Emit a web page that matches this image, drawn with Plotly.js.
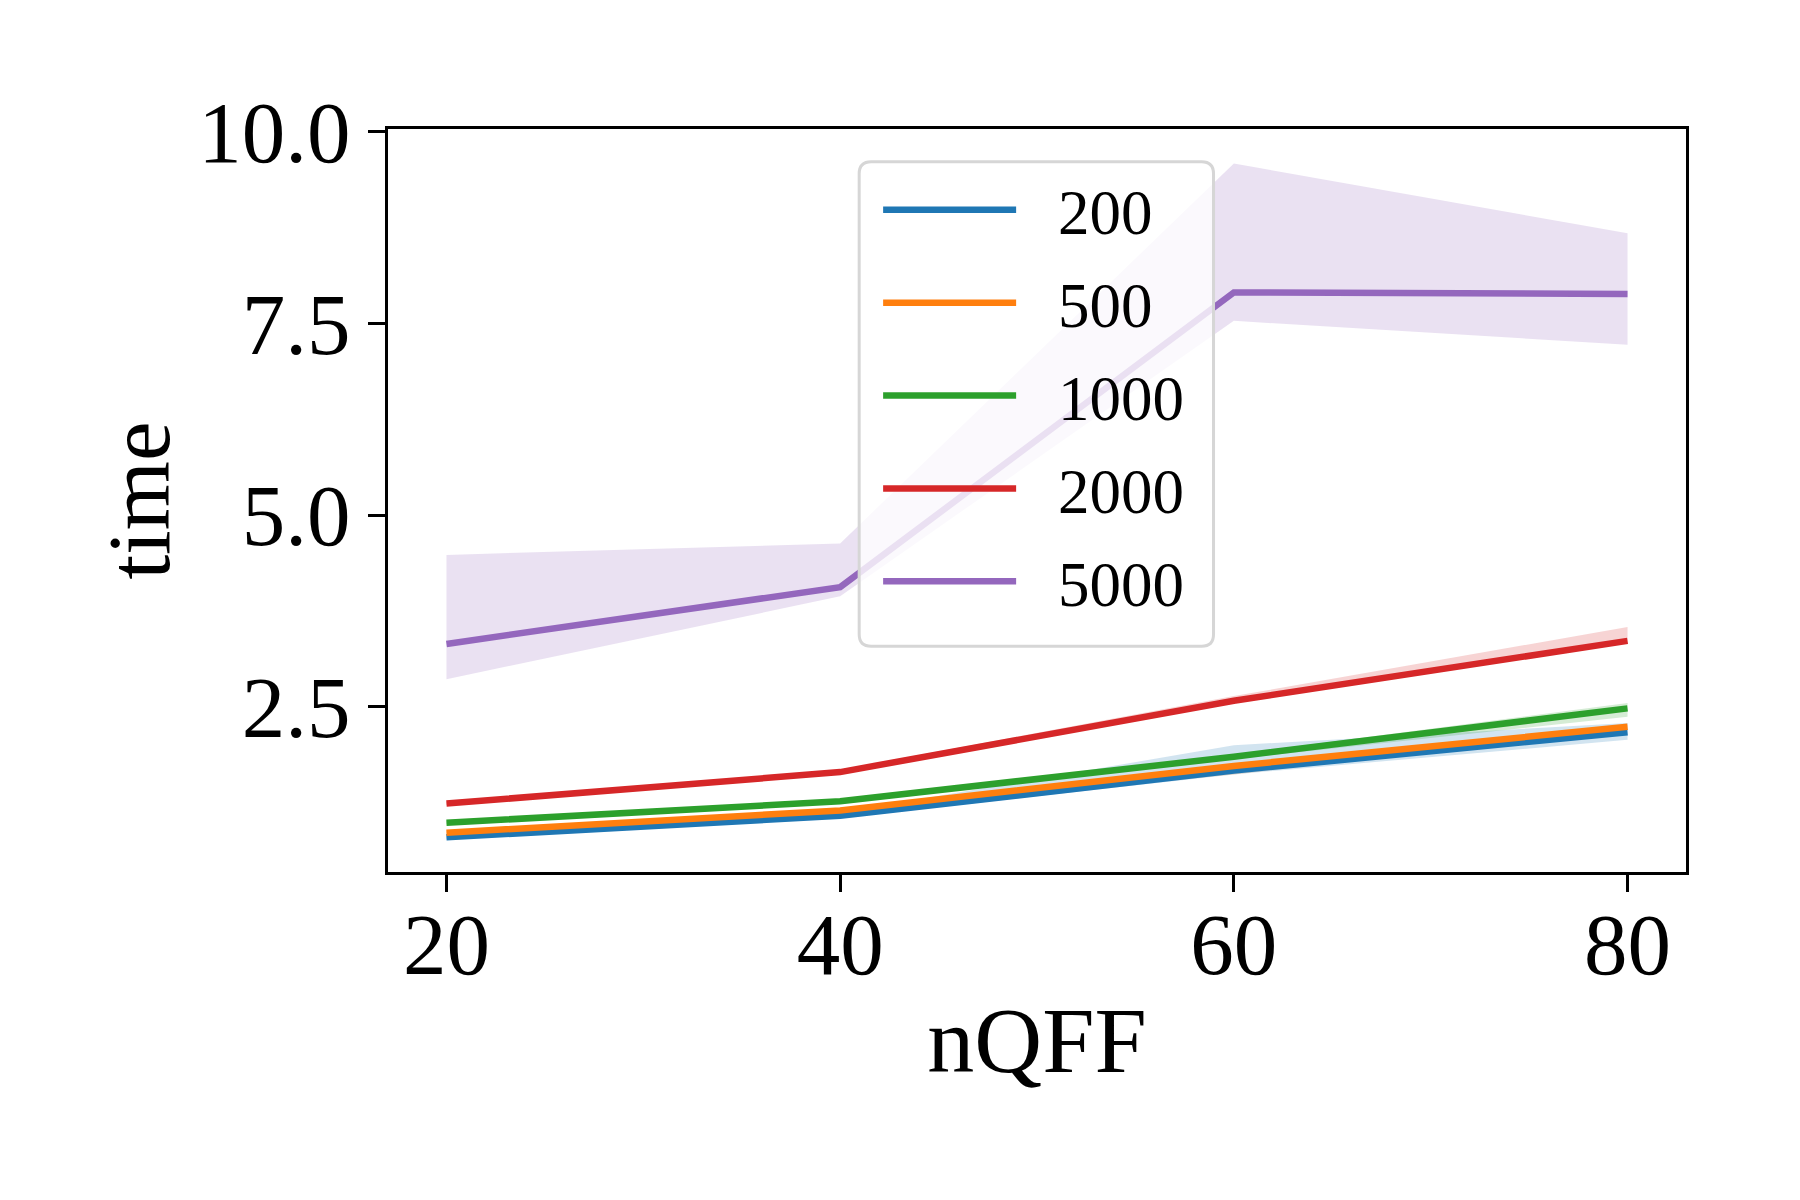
<!DOCTYPE html>
<html>
<head>
<meta charset="utf-8">
<script src="https://cdn.plot.ly/plotly-3.0.1.min.js"></script>
<style>
  html, body { margin: 0; padding: 0; background: #fff; }
  #chart { width: 1800px; height: 1200px; }
</style>
</head>
<body>
<div id="chart"></div>
<script>
// nQFF values on the x axis
const nQFF = [20, 40, 60, 80];

// series labels (legend) and colours
const seriesNames = ['200', '500', '1000', '2000', '5000'];
const seriesColors = ['#1f77b4', '#ff7f0e', '#2ca02c', '#d62728', '#9467bd'];
const bandColors = [
    'rgba(31, 119, 180, 0.2)',
    'rgba(255, 127, 14, 0.2)',
    'rgba(44, 160, 44, 0.2)',
    'rgba(214, 39, 40, 0.2)',
    'rgba(148, 103, 189, 0.2)'
];

// mean time per series
const time200 = [0.80, 1.08, 1.67, 2.17];
const time500 = [0.86, 1.15, 1.73, 2.24];
const time1000 = [0.99, 1.27, 1.85, 2.48];
const time2000 = [1.24, 1.65, 2.58, 3.36];
const time5000 = [3.32, 4.06, 7.90, 7.88];

// confidence band, lower / upper
const low200 = [0.78, 1.05, 1.62, 2.07];
const high200 = [0.82, 1.12, 2.00, 2.29];
const low500 = [0.84, 1.12, 1.62, 2.21];
const high500 = [0.88, 1.18, 1.76, 2.27];
const low1000 = [0.97, 1.25, 1.82, 2.37];
const high1000 = [1.01, 1.29, 1.88, 2.55];
const low2000 = [1.22, 1.62, 2.55, 3.33];
const high2000 = [1.26, 1.68, 2.64, 3.54];
const low5000 = [2.86, 3.94, 7.53, 7.22];
const high5000 = [4.48, 4.63, 9.58, 8.67];

const means = [time200, time500, time1000, time2000, time5000];
const lows = [low200, low500, low1000, low2000, low5000];
const highs = [high200, high500, high1000, high2000, high5000];

const FONT = '"Liberation Serif", "DejaVu Serif", serif';
// gap between the legend line and its label
const LEGEND_PAD = '\u2002\u200a';

const traces = [];

// bands first, so the lines sit on top
seriesNames.forEach((name, i) => {
    traces.push({
        x: nQFF.concat(nQFF.slice().reverse()),
        y: highs[i].concat(lows[i].slice().reverse()),
        type: 'scatter',
        mode: 'lines',
        fill: 'toself',
        fillcolor: bandColors[i],
        line: { width: 0, color: bandColors[i] },
        legendgroup: name,
        showlegend: false,
        hoverinfo: 'skip'
    });
});

seriesNames.forEach((name, i) => {
    traces.push({
        x: nQFF,
        y: means[i],
        name: LEGEND_PAD + name,
        type: 'scatter',
        mode: 'lines',
        line: { color: seriesColors[i], width: 6.5 },
        legendgroup: name
    });
});

// rounded legend frame, in paper coordinates
function roundedRect(x0, y0, x1, y1, rpx, w, h) {
    const rx = rpx / w, ry = rpx / h;
    return 'M' + (x0 + rx) + ',' + y1 +
        ' L' + (x1 - rx) + ',' + y1 +
        ' Q' + x1 + ',' + y1 + ' ' + x1 + ',' + (y1 - ry) +
        ' L' + x1 + ',' + (y0 + ry) +
        ' Q' + x1 + ',' + y0 + ' ' + (x1 - rx) + ',' + y0 +
        ' L' + (x0 + rx) + ',' + y0 +
        ' Q' + x0 + ',' + y0 + ' ' + x0 + ',' + (y0 + ry) +
        ' L' + x0 + ',' + (y1 - ry) +
        ' Q' + x0 + ',' + y1 + ' ' + (x0 + rx) + ',' + y1 + ' Z';
}

const plotW = 1298, plotH = 743;

const layout = {
    width: 1800,
    height: 1200,
    paper_bgcolor: '#ffffff',
    plot_bgcolor: '#ffffff',
    font: { family: FONT, color: '#000000', size: 80 },
    margin: { l: 388, r: 114, t: 129, b: 328 },
    showlegend: true,
    xaxis: {
        range: [17.03, 82.97],
        tickvals: nQFF,
        ticktext: nQFF.map(String),
        ticks: 'outside',
        ticklen: 17,
        tickwidth: 3,
        tickcolor: '#000',
        tickfont: { size: 87 },
        ticklabelstandoff: -22,
        showgrid: false,
        zeroline: false,
        showline: true,
        linecolor: '#000',
        linewidth: 3,
        mirror: true,
        title: { text: 'nQFF', font: { size: 94 }, standoff: 14 }
    },
    yaxis: {
        range: [0.348, 10.03],
        tickvals: [2.5, 5.0, 7.5, 10.0],
        ticktext: ['2.5', '5.0', '7.5', '10.0'],
        ticks: 'outside',
        ticklen: 17,
        tickwidth: 3,
        tickcolor: '#000',
        tickfont: { size: 87 },
        showgrid: false,
        zeroline: false,
        showline: true,
        linecolor: '#000',
        linewidth: 3,
        mirror: true,
        title: { text: 'time', font: { size: 89 }, standoff: 0 }
    },
    legend: {
        x: 0.3776,
        y: 0.9552,
        xanchor: 'left',
        yanchor: 'top',
        bgcolor: 'rgba(0,0,0,0)',
        borderwidth: 0,
        font: { size: 63, family: FONT },
        itemwidth: 133,
        tracegroupgap: 8
    },
    shapes: [{
        type: 'path',
        xref: 'paper',
        yref: 'paper',
        layer: 'above',
        path: roundedRect(0.363, 0.304, 0.636, 0.956, 12, plotW, plotH),
        fillcolor: 'rgba(255,255,255,0.8)',
        line: { color: '#d6d6d6', width: 3 }
    }]
};

const config = { displayModeBar: false, responsive: false };

Plotly.newPlot('chart', traces, layout, config);
</script>
</body>
</html>
